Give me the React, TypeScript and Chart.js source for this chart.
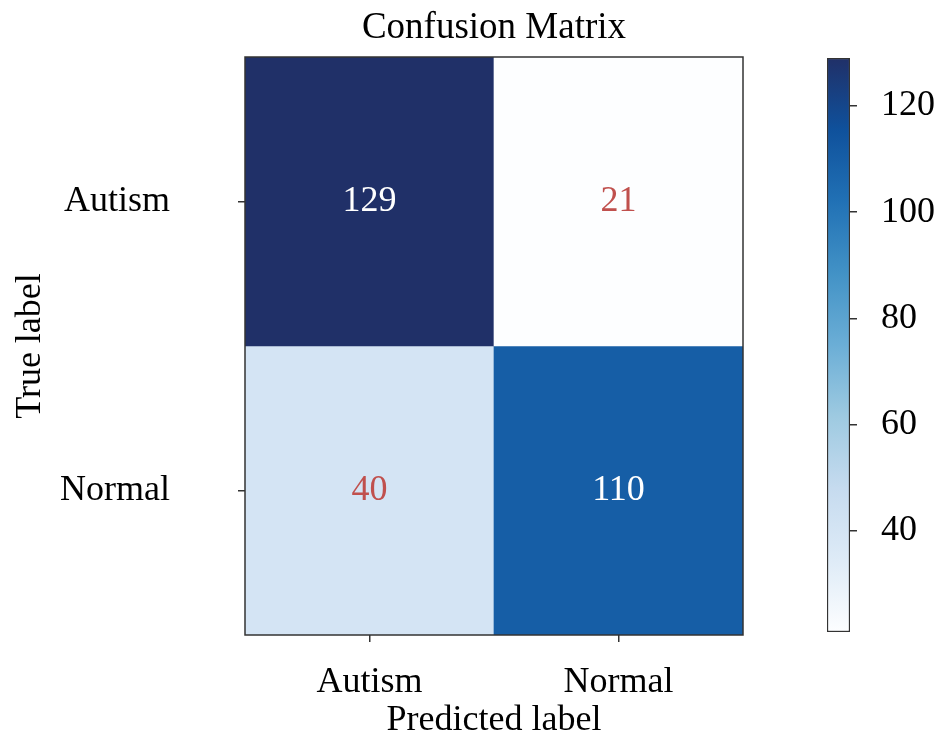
import React, { useEffect, useRef } from "react";
import { Chart, registerables } from "chart.js";
Chart.register(...registerables);

const predictedLabels = ["Autism", "Normal"];
const trueLabels = ["Autism", "Normal"];
const rowAutism = [129, 21];
const rowNormal = [40, 110];
const matrixRows = [rowAutism, rowNormal];
const colorbarTicks = [40, 60, 80, 100, 120];
const vMin = 21;
const vMax = 129;

const BLUES = ["#fdfeff", "#deebf7", "#c6dbef", "#9ecae1", "#6baed6", "#4292c6", "#2171b5", "#0f519c", "#203068"];
const FONT_FAMILY = "'Liberation Serif', 'DejaVu Serif', serif";
const font = { family: FONT_FAMILY, size: 36, weight: "normal" as const };
const titleFont = { family: FONT_FAMILY, size: 37, weight: "normal" as const };

function hexToRgb(h: string) {
  const n = parseInt(h.slice(1), 16);
  return [(n >> 16) & 255, (n >> 8) & 255, n & 255];
}
function blues(t: number) {
  const c = Math.max(0, Math.min(1, t)) * (BLUES.length - 1);
  const i = Math.min(Math.floor(c), BLUES.length - 2);
  const f = c - i;
  const a = hexToRgb(BLUES[i]);
  const b = hexToRgb(BLUES[i + 1]);
  const m = a.map((v, k) => Math.round(v + (b[k] - v) * f));
  return `rgb(${m[0]},${m[1]},${m[2]})`;
}
const norm = (v: number) => (v - vMin) / (vMax - vMin);

const framePlugin = {
  id: "frame",
  afterDatasetsDraw(chart: any) {
    const { ctx, chartArea } = chart;
    ctx.save();
    ctx.strokeStyle = "#333";
    ctx.lineWidth = 1.5;
    ctx.strokeRect(chartArea.left, chartArea.top, chartArea.right - chartArea.left, chartArea.bottom - chartArea.top);
    ctx.restore();
  },
};

const cellTextPlugin = {
  id: "cellText",
  afterDatasetsDraw(chart: any) {
    const { ctx } = chart;
    ctx.save();
    ctx.font = `${font.size}px ${FONT_FAMILY}`;
    ctx.textAlign = "center";
    ctx.textBaseline = "middle";
    matrixRows.forEach((row, i) => {
      const meta = chart.getDatasetMeta(i);
      row.forEach((v, j) => {
        const el: any = meta.data[j];
        const cx = el.x;
        const cy = (el.y + el.base) / 2;
        ctx.fillStyle = v > (vMin + vMax) / 2 ? "#ffffff" : "#c0504d";
        ctx.fillText(String(v), cx, cy);
      });
    });
    ctx.restore();
  },
};

const zeroPad = (s: any) => {
  s.paddingTop = 0;
  s.paddingBottom = 0;
  s.paddingLeft = 0;
  s.paddingRight = 0;
};

export default function App() {
  const mainRef = useRef<HTMLCanvasElement>(null);
  const cbRef = useRef<HTMLCanvasElement>(null);

  useEffect(() => {
    const main = new Chart(mainRef.current!, {
      type: "bar",
      data: {
        labels: predictedLabels,
        datasets: matrixRows.map((row, i) => ({
          label: trueLabels[i],
          data: row.map(() => [i, i + 1]) as any,
          backgroundColor: row.map((v) => blues(norm(v))),
          borderWidth: 0,
          barPercentage: 1,
          categoryPercentage: 1,
          grouped: false,
        })),
      },
      options: {
        responsive: false,
        animation: false,
        layout: { padding: { left: 0, top: 0, right: 193, bottom: 0 } },
        plugins: { legend: { display: false }, tooltip: { enabled: false } },
        scales: {
          x: {
            type: "category",
            position: "bottom",
            offset: true,
            grid: { display: true, drawOnChartArea: false, drawTicks: true, tickLength: 7, color: "#333", lineWidth: 1.5, offset: false },
            border: { display: false },
            ticks: { font, color: "#000", padding: 19, maxRotation: 0 },
            title: { display: true, text: "Predicted label", font, color: "#000", padding: { top: 0, bottom: 0 } },
            afterFit: (s: any) => { s.height = 107; zeroPad(s); },
          },
          x2: {
            type: "category",
            position: "top",
            labels: predictedLabels,
            grid: { display: false },
            border: { display: false },
            ticks: { display: false },
            title: { display: true, text: "Confusion Matrix", font: titleFont, color: "#000", padding: { top: 6, bottom: 0 } },
            afterFit: (s: any) => { s.height = 57; zeroPad(s); },
          },
          y: {
            type: "linear",
            reverse: true,
            min: 0,
            max: 2,
            afterBuildTicks: (s: any) => { s.ticks = trueLabels.map((_, i) => ({ value: i + 0.5 })); },
            ticks: { callback: (_v: any, idx: number) => trueLabels[idx], font, color: "#000", padding: 68 },
            grid: { drawOnChartArea: false, drawTicks: true, tickLength: 7, color: "#333", lineWidth: 1.5 },
            border: { display: false },
            title: { display: true, text: "True label", font, color: "#000", padding: { top: 9, bottom: 0 } },
            afterFit: (s: any) => { s.width = 245; zeroPad(s); },
          },
        } as any,
      },
      plugins: [cellTextPlugin, framePlugin],
    });

    const cb = new Chart(cbRef.current!, {
      type: "bar",
      data: {
        labels: [""],
        datasets: [
          {
            data: [[vMin, vMax]] as any,
            backgroundColor: (c: any) => {
              const chart = c.chart;
              const ys = chart.scales?.y;
              if (!chart.chartArea || !ys) return BLUES[4];
              const g = chart.ctx.createLinearGradient(0, ys.getPixelForValue(vMin), 0, ys.getPixelForValue(vMax));
              BLUES.forEach((col, k) => g.addColorStop(k / (BLUES.length - 1), col));
              return g;
            },
            borderColor: "#333",
            borderWidth: 1.5,
            borderSkipped: false,
            barPercentage: 1,
            categoryPercentage: 1,
          },
        ],
      },
      options: {
        responsive: false,
        animation: false,
        layout: { padding: { left: 27, top: 58, bottom: 110, right: 0 } },
        plugins: { legend: { display: false }, tooltip: { enabled: false } },
        scales: {
          x: { display: false },
          y: {
            position: "right",
            min: vMin,
            max: vMax,
            afterBuildTicks: (s: any) => { s.ticks = colorbarTicks.map((v) => ({ value: v })); },
            ticks: { font, color: "#000", padding: 24 },
            grid: { drawOnChartArea: false, drawTicks: true, tickLength: 7, color: "#333", lineWidth: 1.5 },
            border: { display: false },
            afterFit: (s: any) => { s.width = 86; zeroPad(s); },
          },
        } as any,
      },
    });

    return () => {
      main.destroy();
      cb.destroy();
    };
  }, []);

  return (
    <div style={{ position: "fixed", left: 0, top: 0, width: 936, height: 742, background: "#fff" }}>
      <canvas ref={mainRef} width={936} height={742} style={{ position: "absolute", left: 0, top: 0, width: 936, height: 742 }} />
      <canvas ref={cbRef} width={136} height={742} style={{ position: "absolute", left: 800, top: 0, width: 136, height: 742 }} />
    </div>
  );
}
